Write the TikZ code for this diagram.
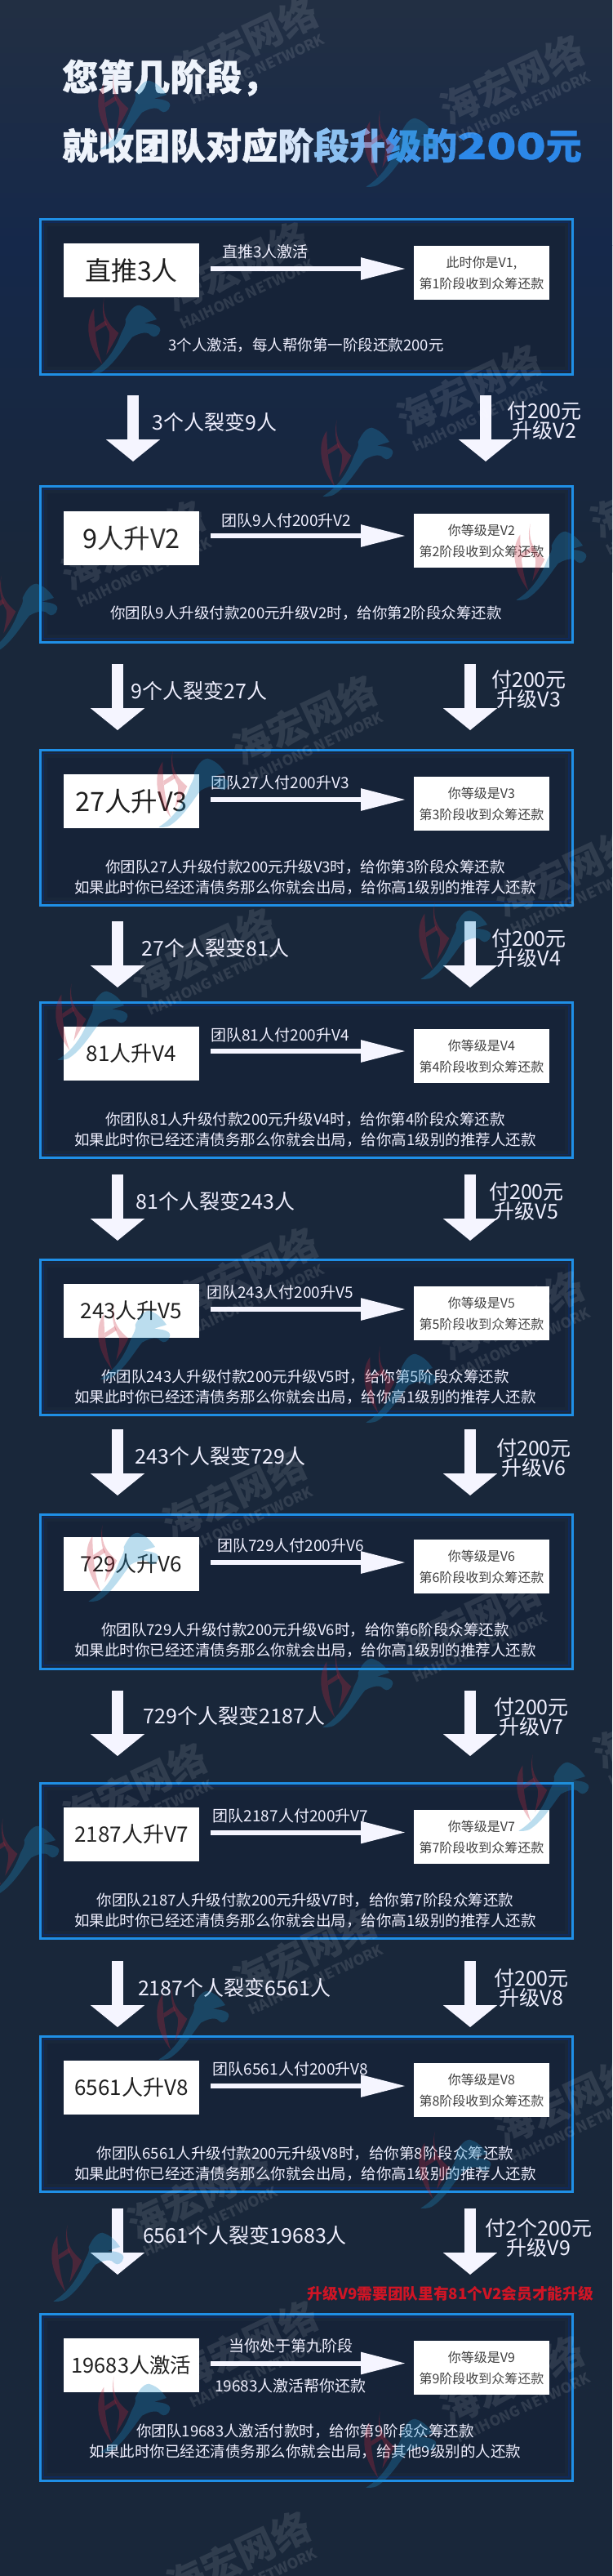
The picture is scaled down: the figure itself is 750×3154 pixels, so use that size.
\documentclass[tikz,border=0pt]{standalone}
\usepackage{fontspec}
\setmainfont{Noto Sans CJK SC}
\newfontfamily\heavyfont[BoldFeatures={FakeBold=1.2}]{Noto Sans CJK SC}
\usetikzlibrary{arrows.meta,calc}
\definecolor{bgtop}{HTML}{222F43}
\definecolor{bgmid}{HTML}{15284A}
\definecolor{bgbase}{HTML}{19273A}
\definecolor{framecol}{HTML}{1F8FE6}
\definecolor{rimcol}{HTML}{0F2A5C}
\definecolor{innercol}{HTML}{162338}
\definecolor{t1}{HTML}{EEF3FB}
\definecolor{t2}{HTML}{D5E4F8}
\definecolor{t3}{HTML}{8CC0F0}
\definecolor{t4}{HTML}{78B2EE}
\definecolor{t5}{HTML}{3F93E8}
\definecolor{t6}{HTML}{2C88E8}
\definecolor{logoblue}{HTML}{1E90C8}
\definecolor{logored}{HTML}{C8283C}
\definecolor{warnred}{HTML}{D01525}
\tikzset{
  panel/.style={draw=framecol,line width=3,fill=bgbase,minimum width=652,inner sep=0,outer sep=0},
  panelrim/.style={draw=rimcol,line width=1.2},
  panelinner/.style={fill=innercol},
  leftbox/.style={fill=white,text=black!88,minimum width=166,minimum height=66,inner sep=0,outer sep=0,font=\fontsize{#1}{32}\selectfont},
  rightbox/.style={fill=white,text=black!75,minimum width=166,minimum height=66,inner sep=0,outer sep=0,align=center,font=\fontsize{16}{26}\selectfont},
  flow/.style={draw=white!96!blue,line width=6,-{Triangle[length=55,width=26,fill=white!96!blue]},shorten <=14,shorten >=10},
  drop/.style={draw=white!96!blue,line width=13.5,-{Triangle[length=27,width=65,fill=white!96!blue]}},
  flowlabel/.style={text=white!94!blue,inner sep=0,font=\fontsize{19}{24}\selectfont},
  bodytext/.style={text=white!94!blue,inner sep=0,align=center,font=\fontsize{18.5}{24.5}\selectfont},
  droplabel/.style={text=white!94!blue,inner sep=0,align=center,font=\fontsize{25}{24}\selectfont},
  titletext/.style={inner sep=0,anchor=west,font=\fontsize{44}{50}\selectfont\heavyfont\bfseries},
  wmcn/.style={text=white,text opacity=.10,inner sep=0,rotate=25,font=\fontsize{47}{50}\selectfont\bfseries},
  wmen/.style={text=white,text opacity=.11,inner sep=0,rotate=25,font=\fontsize{17.5}{20}\selectfont\bfseries},
  wmred/.style={fill=logored,fill opacity=.28},
  wmblue/.style={fill=logoblue,fill opacity=.30},
}
\newcommand{\stage}[9]{%
  \node[panel,minimum height={#3-#2}] (P#1) at (375,{(#2+#3)/2}) {};
  \fill[panelinner] ([shift={(9,9)}]P#1.north west) rectangle ([shift={(-9,-9)}]P#1.south east);
  \draw[panelrim] ([shift={(4,4)}]P#1.north west) rectangle ([shift={(-4,-4)}]P#1.south east);
  \node[leftbox=#7] (L#1) at (161,#4) {#8};
  \node[rightbox] (R#1) at (590,#5) {#9};
  \draw[flow] (L#1.east |- 0,#6) -- (R#1.west |- 0,#6);
}
\newcommand{\dropboth}[7]{% from, to, xl, xr, top gap, bottom gap
  \draw[drop,shorten <=#5,shorten >=#6] (P#1.south -| #3,0) -- (P#2.north -| #3,0);
  \draw[drop,shorten <=#5,shorten >=#6] (P#1.south -| #4,0) -- (P#2.north -| #4,0);
}
\newcommand{\logomark}[2]{%
  \begin{scope}[shift={(#1,#2)},x=.3333pt,y=-.3333pt,shift={(-185,-180)}]
    \fill[wmred] (75,80) .. controls (45,120) and (40,200) .. (105,285) .. controls (85,230) and (75,160) .. (75,80) -- cycle;
    \fill[wmred] (112,40) .. controls (105,90) and (115,130) .. (165,170) .. controls (150,200) and (135,225) .. (120,250) .. controls (125,220) and (135,190) .. (130,165) .. controls (110,130) and (100,90) .. (112,40) -- cycle;
    \fill[wmred] (78,150) -- (115,125) -- (122,140) -- (80,166) -- cycle;
    \fill[wmblue] (60,320) .. controls (110,290) and (150,240) .. (175,170) .. controls (185,150) and (195,135) .. (190,120) .. controls (200,100) and (215,70) .. (240,68) .. controls (265,75) and (285,90) .. (305,120) .. controls (290,125) and (270,130) .. (260,135) .. controls (280,135) and (320,140) .. (318,160) .. controls (315,180) and (295,190) .. (285,180) .. controls (275,165) and (250,165) .. (215,185) .. controls (190,215) and (150,285) .. (100,315) .. controls (90,320) and (70,322) .. (60,320) -- cycle;
  \end{scope}
}
\newcommand{\wm}[3]{%
  \node[wmcn] (WA#1) at (#2,#3) {海宏网络};
  \node[wmen] (WB#1) at ($(#2,#3)+(14,34)$) {HAIHONG NETWORK};
  \logomark{#2-137}{#3+85}
}
\begin{document}
\begin{tikzpicture}[x=1pt,y=-1pt]
\clip (0,0) rectangle (750,3154);
\shade[top color=bgtop,bottom color=bgmid] (0,0) rectangle (750,300);
\shade[top color=bgmid,bottom color=bgbase] (0,300) rectangle (750,700);
\fill[bgbase] (0,700) rectangle (750,3154);

\node[titletext,text=t1] (title1) at (76,95) {您第几阶段，};
\node[titletext] (title2) at (76,178) {\textcolor{t1}{就收团队对应}\textcolor{t2}{阶}\textcolor{t3}{段}\textcolor{t4}{升}\textcolor{t5}{级的}\textcolor{t6}{\scalebox{1.35}[1]{200}元}};

\stage{1}{268}{458}{331}{334}{329}{32}{直推3人}{此时你是V1,\\第1阶段收到众筹还款}
\node[flowlabel] (F1) at (325,308) {直推3人激活};
\node[bodytext] (B1) at (375,423) {3个人激活，每人帮你第一阶段还款200元};

\stage{2}{595}{786}{659}{662}{656}{32.5}{9人升V2}{你等级是V2\\第2阶段收到众筹还款}
\node[flowlabel] (F2) at (351,637) {团队9人付200升V2};
\node[bodytext] (B2) at (375,751) {你团队9人升级付款200元升级V2时，给你第2阶段众筹还款};

\stage{3}{918.5}{1108}{981}{984}{979}{32.5}{27人升V3}{你等级是V3\\第3阶段收到众筹还款}
\node[flowlabel] (F3) at (343,958) {团队27人付200升V3};
\node[bodytext] (B3) at (374,1074) {你团队27人升级付款200元升级V3时，给你第3阶段众筹还款\\如果此时你已经还清债务那么你就会出局，给你高1级别的推荐人还款};

\stage{4}{1227}{1417.5}{1290}{1293}{1287}{26}{81人升V4}{你等级是V4\\第4阶段收到众筹还款}
\node[flowlabel] (F4) at (343,1267) {团队81人付200升V4};
\node[bodytext] (B4) at (374,1383) {你团队81人升级付款200元升级V4时，给你第4阶段众筹还款\\如果此时你已经还清债务那么你就会出局，给你高1级别的推荐人还款};

\stage{5}{1542.5}{1732}{1605}{1608}{1603}{26}{243人升V5}{你等级是V5\\第5阶段收到众筹还款}
\node[flowlabel] (F5) at (343,1582) {团队243人付200升V5};
\node[bodytext] (B5) at (374,1698) {你团队243人升级付款200元升级V5时，给你第5阶段众筹还款\\如果此时你已经还清债务那么你就会出局，给你高1级别的推荐人还款};

\stage{6}{1854}{2043}{1915}{1918}{1913}{26}{729人升V6}{你等级是V6\\第6阶段收到众筹还款}
\node[flowlabel] (F6) at (356,1892) {团队729人付200升V6};
\node[bodytext] (B6) at (374,2008) {你团队729人升级付款200元升级V6时，给你第6阶段众筹还款\\如果此时你已经还清债务那么你就会出局，给你高1级别的推荐人还款};

\stage{7}{2183}{2373}{2246}{2249}{2243.5}{26}{2187人升V7}{你等级是V7\\第7阶段收到众筹还款}
\node[flowlabel] (F7) at (356,2223) {团队2187人付200升V7};
\node[bodytext] (B7) at (374,2339) {你团队2187人升级付款200元升级V7时，给你第7阶段众筹还款\\如果此时你已经还清债务那么你就会出局，给你高1级别的推荐人还款};

\stage{8}{2493}{2683}{2556}{2559}{2554}{26}{6561人升V8}{你等级是V8\\第8阶段收到众筹还款}
\node[flowlabel] (F8) at (356,2533) {团队6561人付200升V8};
\node[bodytext] (B8) at (374,2649) {你团队6561人升级付款200元升级V8时，给你第8阶段众筹还款\\如果此时你已经还清债务那么你就会出局，给你高1级别的推荐人还款};

\stage{9}{2833}{3037}{2896}{2899}{2893.5}{25.4}{19683人激活}{你等级是V9\\第9阶段收到众筹还款}
\node[flowlabel] (F9) at (356,2872) {当你处于第九阶段};
\node[flowlabel] (G9) at (356,2921) {19683人激活帮你还款};
\node[bodytext] (B9) at (374,2989) {你团队19683人激活付款时，给你第9阶段众筹还款\\如果此时你已经还清债务那么你就会出局，给其他9级别的人还款};

\dropboth{1}{2}{163}{595}{26}{30}{}
\node[droplabel] (D1) at (263,517) {3个人裂变9人};
\node[droplabel] (E1) at (667,515) {付200元\\升级V2};
\dropboth{2}{3}{144}{576}{27}{24.5}{}
\node[droplabel] (D2) at (244,846) {9个人裂变27人};
\node[droplabel] (E2) at (648,844) {付200元\\升级V3};
\dropboth{3}{4}{144}{576}{20}{18}{}
\node[droplabel] (D3) at (264,1161) {27个人裂变81人};
\node[droplabel] (E3) at (648,1161) {付200元\\升级V4};
\dropboth{4}{5}{144}{576}{20.5}{23.5}{}
\node[droplabel] (D4) at (264,1470.5) {81个人裂变243人};
\node[droplabel] (E4) at (645,1471) {付200元\\升级V5};
\dropboth{5}{6}{144}{576}{18}{23}{}
\node[droplabel] (D5) at (270,1783) {243个人裂变729人};
\node[droplabel] (E5) at (654,1785) {付200元\\升级V6};
\dropboth{6}{7}{144}{576}{26.6}{33}{}
\node[droplabel] (D6) at (287,2101) {729个人裂变2187人};
\node[droplabel] (E6) at (651,2102) {付200元\\升级V7};
\dropboth{7}{8}{144}{576}{28}{11}{}
\node[droplabel] (D7) at (287,2434) {2187个人裂变6561人};
\node[droplabel] (E7) at (651,2434) {付200元\\升级V8};
\dropboth{8}{9}{144}{576}{20.5}{48}{}
\node[droplabel] (D8) at (300,2737) {6561个人裂变19683人};
\node[droplabel] (E8) at (660,2740) {付2个200元\\升级V9};
\node[inner sep=0,text=warnred,font=\fontsize{18.7}{24}\selectfont\bfseries] (W9) at (552,2808) {升级V9需要团队里有81个V2会员才能升级};

\wm{1}{301}{51}
\wm{2}{627}{97}
\wm{3}{289}{326}
\wm{4}{574}{476}
\wm{5}{163}{667}
\wm{6}{811}{603}
\wm{7}{373}{881}
\wm{8}{694}{1067}
\wm{9}{249}{1166}
\wm{10}{301}{1557}
\wm{11}{627}{1610}
\wm{12}{287}{1829}
\wm{13}{574}{1983}
\wm{14}{165}{2188}
\wm{15}{814}{2110}
\wm{16}{373}{2390}
\wm{17}{694}{2572}
\wm{18}{244}{2686}
\wm{19}{301}{2871}
\wm{20}{627}{2914}
\wm{21}{292}{3129}
\end{tikzpicture}
\end{document}
